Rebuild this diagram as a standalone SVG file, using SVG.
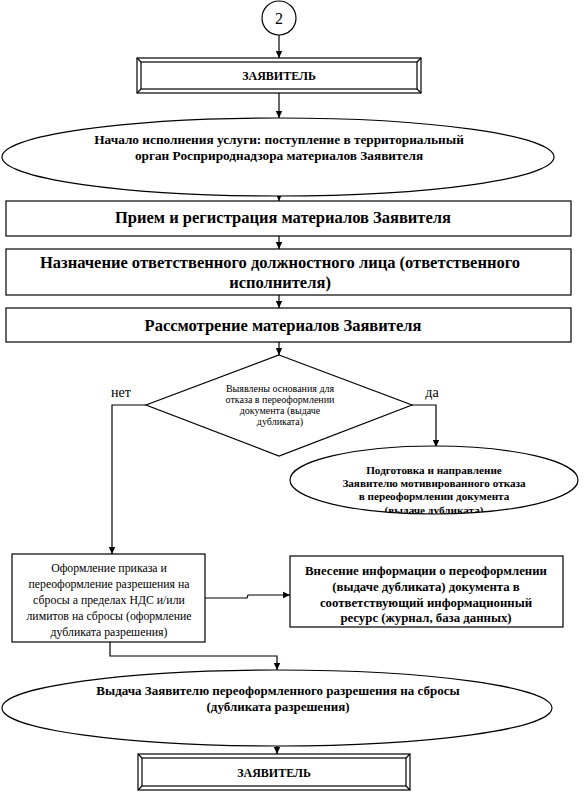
<svg xmlns="http://www.w3.org/2000/svg" width="586" height="794" viewBox="0 0 586 794">
<style>
.s{fill:none;stroke:#000;stroke-width:1.2}
.n{fill:#fff;stroke:#000;stroke-width:1.2}
.c{fill:none;stroke:#000;stroke-width:1.2}
text{font-family:"Liberation Serif","Times New Roman",serif;fill:#000;text-anchor:middle}
.b{font-weight:bold}
</style>
<defs>
<marker id="a" markerWidth="8" markerHeight="8" refX="7" refY="4" orient="auto" markerUnits="userSpaceOnUse">
<path d="M0,0.8 L7,4 L0,7.2 Z" fill="#000"/>
</marker>
<clipPath id="e2clip"><ellipse cx="434" cy="480" rx="144" ry="34"/></clipPath>
</defs>
<rect width="586" height="794" fill="#fff"/>

<g id="connectors">
<line class="c" x1="279" y1="35" x2="279" y2="58" marker-end="url(#a)"/>
<line class="c" x1="279" y1="93" x2="279" y2="118" marker-end="url(#a)"/>
<line class="c" x1="279" y1="190" x2="279" y2="201" marker-end="url(#a)"/>
<line class="c" x1="279" y1="236" x2="279" y2="249" marker-end="url(#a)"/>
<line class="c" x1="279" y1="295" x2="279" y2="308" marker-end="url(#a)"/>
<line class="c" x1="279" y1="342" x2="279" y2="355" marker-end="url(#a)"/>
<polyline class="c" points="146,405 112,405 112,554" marker-end="url(#a)"/>
<polyline class="c" points="412,405 436,405 436,447" marker-end="url(#a)"/>
<polyline class="c" points="205,598 247,598 248,595 290,595" marker-end="url(#a)"/>
<polyline class="c" points="110,642 110,656 277,656 277,670" marker-end="url(#a)"/>
<line class="c" x1="277" y1="746" x2="277" y2="754" marker-end="url(#a)"/>
</g>

<g id="start">
<circle class="n" cx="279" cy="18" r="17"/>
<text x="279" y="24" font-size="16">2</text>
</g>

<g id="applicant-top">
<rect class="n" x="137" y="58" width="284" height="35"/>
<rect class="s" x="141" y="62" width="276" height="27"/>
<path class="s" d="M137,58 L141,62 M421,58 L417,62 M137,93 L141,89 M421,93 L417,89"/>
<text class="b" x="279" y="80" font-size="12">ЗАЯВИТЕЛЬ</text>
</g>

<g id="begin">
<ellipse class="n" cx="278" cy="157" rx="276" ry="39"/>
<text class="b" x="279" y="144" font-size="13.3">Начало исполнения услуги: поступление в территориальный</text>
<text class="b" x="279" y="160" font-size="13.3">орган Росприроднадзора  материалов Заявителя</text>
</g>

<g id="receive">
<rect class="n" x="6" y="201" width="565" height="35"/>
<text class="b" x="283" y="223" font-size="16.5">Прием и регистрация материалов Заявителя</text>
</g>

<g id="assign">
<rect class="n" x="6" y="249" width="565" height="46"/>
<text class="b" x="280" y="268" font-size="16.5">Назначение ответственного должностного лица (ответственного</text>
<text class="b" x="280" y="288" font-size="16.5">исполнителя)</text>
</g>

<g id="review">
<rect class="n" x="6" y="308" width="565" height="34"/>
<text class="b" x="283" y="331" font-size="16.5">Рассмотрение материалов Заявителя</text>
</g>

<g id="decision">
<polygon class="n" points="279,355 412,405 279,456 146,405"/>
<text x="280" y="392" font-size="10">Выявлены основания для</text>
<text x="280" y="403" font-size="10">отказа в переоформлении</text>
<text x="280" y="414" font-size="10">документа (выдаче</text>
<text x="280" y="425" font-size="10">дубликата)</text>
<text x="121" y="397" font-size="14">нет</text>
<text x="432" y="397" font-size="14">да</text>
</g>

<g id="refusal">
<ellipse class="n" cx="434" cy="480" rx="144" ry="34"/>
<g clip-path="url(#e2clip)">
<text class="b" x="434" y="474" font-size="11.2">Подготовка и направление</text>
<text class="b" x="434" y="487" font-size="11.2">Заявителю мотивированного отказа</text>
<text class="b" x="434" y="500" font-size="11.2">в переоформлении документа</text>
<text class="b" x="434" y="514" font-size="11.2">(выдаче дубликата)</text>
</g>
</g>

<g id="reissue">
<rect class="n" x="12" y="554" width="193" height="88"/>
<text x="109" y="572" font-size="11.8">Оформление приказа и</text>
<text x="109" y="588" font-size="11.8">переоформление разрешения на</text>
<text x="109" y="604" font-size="11.8">сбросы а пределах НДС и/или</text>
<text x="109" y="620" font-size="11.8">лимитов на сбросы (оформление</text>
<text x="109" y="636" font-size="11.8">дубликата разрешения)</text>
</g>

<g id="register">
<rect class="n" x="290" y="556" width="273" height="71"/>
<text class="b" x="426" y="575" font-size="12.8">Внесение информации о переоформлении</text>
<text class="b" x="426" y="591" font-size="12.8">(выдаче дубликата) документа в</text>
<text class="b" x="426" y="607" font-size="12.8">соответствующий информационный</text>
<text class="b" x="426" y="622" font-size="12.8">ресурс (журнал, база данных)</text>
</g>

<g id="issue">
<ellipse class="n" cx="277" cy="708" rx="275" ry="38"/>
<text class="b" x="278" y="695" font-size="13">Выдача Заявителю переоформленного разрешения на сбросы</text>
<text class="b" x="278" y="711" font-size="13">(дубликата разрешения)</text>
</g>

<g id="applicant-bottom">
<rect class="n" x="138" y="754" width="272" height="36"/>
<rect class="s" x="142" y="758" width="264" height="28"/>
<path class="s" d="M138,754 L142,758 M410,754 L406,758 M138,790 L142,786 M410,790 L406,786"/>
<text class="b" x="274" y="777" font-size="12">ЗАЯВИТЕЛЬ</text>
</g>
</svg>
